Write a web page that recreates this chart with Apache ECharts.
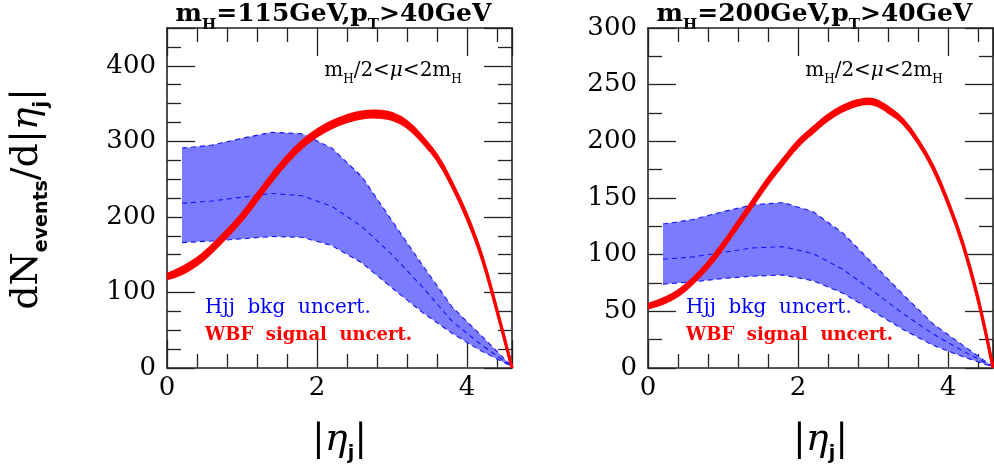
<!DOCTYPE html>
<html><head><meta charset="utf-8">
<script src="https://cdn.jsdelivr.net/npm/echarts@6/dist/echarts.min.js"></script>
<style>html,body{margin:0;padding:0;background:#fff}#c{width:994px;height:465px}</style>
</head><body><div id="c"></div>
<script>
// ---- data ----
const sigX = [0,0.2,0.4,0.6,0.8,1.0,1.2,1.4,1.6,1.8,2.0,2.2,2.4,2.6,2.8,3.0,3.2,3.4,3.6,3.8,4.0,4.2,4.4,4.6];
const sig115Upper = [124,133,145,162,182,204,230,256,280,300,315,326,334,339,340,337,326,306,281,245,202,148,77,0];
const sig115Lower = [118,125,137,154,174,196,222,248,272,292,307,318,326,331,332,329,319,300,276,241,198,145,75,0];
const sig200Upper = [56,61,68,79,93,110,129,148,167,184,200,212,223,231,236,237,230,219,201,178,147,110,62,0];
const sig200Lower = [53,57,64,75,89,106,125,144,163,180,196,208,219,227,232,233,226,216,199,176,145,108,60,0];

const bkgX = [0.2,0.6,1.0,1.4,1.8,2.2,2.6,3.0,3.4,3.8,4.2,4.6];
const bkg115Upper   = [291,295,304,312,310,291,253,195,137,81,42,2];
const bkg115Central = [218,221,226,231,228,214,187,150,108,62,30,2];
const bkg115Lower   = [166,168,171,174,173,162,139,106,74,46,22,2];
const bkg200Upper   = [127,131,138,144,146,138,119,92,65,39,20,1];
const bkg200Central = [96,98,102,106,107,101,87,68,48,30,15,1];
const bkg200Lower   = [74,76,79,81,82,77,66,50,34,20,10,1];

const xMax = 4.6, xMajor = 2, xMinorSplit = 5;
const yMaxs = [450, 300];
const yMajors = [100, 50];
const yMinorSplits = [4, 2];
const panelTitles = [['115','40'], ['200','40']];

// ---- style ----
const SERIF = "'DejaVu Serif', serif";
const SANS = "'DejaVu Sans', sans-serif";
const AX = '#222';
const grids = [
  {left:167, top:28, width:345, height:340},
  {left:648, top:28, width:345, height:340}
];

function xAxisFor(g, pos) {
  return {
    gridIndex:g, type:'value', min:0, max:xMax, interval:xMajor, position:pos,
    axisLine:{show:true, onZero:false, lineStyle:{color:AX, width:1.6}},
    axisTick:{show:true, inside:true, length:28, lineStyle:{color:AX, width:1.3}},
    minorTick:{show:true, splitNumber:xMinorSplit, length:14, lineStyle:{color:AX, width:1.3}},
    axisLabel:{show:pos==='bottom', showMaxLabel:false, margin:7, color:'#000', fontFamily:SERIF, fontSize:26},
    splitLine:{show:false}, minorSplitLine:{show:false}
  };
}
function yAxisFor(g, pos) {
  return {
    gridIndex:g, type:'value', min:0, max:yMaxs[g], interval:yMajors[g], position:pos,
    axisLine:{show:true, onZero:false, lineStyle:{color:AX, width:1.6}},
    axisTick:{show:true, inside:true, length:28, lineStyle:{color:AX, width:1.3}},
    minorTick:{show:true, splitNumber:yMinorSplits[g], length:14, lineStyle:{color:AX, width:1.3}},
    axisLabel:{show:pos==='left', showMaxLabel:g===1, showMinLabel:true, margin:11, color:'#000', fontFamily:SERIF, fontSize:26},
    splitLine:{show:false}, minorSplitLine:{show:false}
  };
}

const xAxes = [], yAxes = [];
for (let g=0; g<2; g++) {
  xAxes.push(xAxisFor(g,'bottom')); xAxes.push(xAxisFor(g,'top'));
  yAxes.push(yAxisFor(g,'left'));   yAxes.push(yAxisFor(g,'right'));
}

const SMOOTH = 0.45;
function bandSeries(g, xs, up, lo, fill, stroke, smooth, z) {
  return {
    type:'custom', xAxisIndex:2*g, yAxisIndex:2*g, z:z, silent:true,
    data:[[xs[0], lo[0]]],
    renderItem:function(params, api){
      const pu = xs.map((x,i)=>api.coord([x, up[i]]));
      const pl = xs.map((x,i)=>api.coord([x, lo[i]]));
      const poly = pu.concat(pl.slice().reverse());
      const children = [{type:'polygon', shape:{points:poly}, style:{fill:fill, stroke:null}}];
      if (stroke) {
        children.push({type:'polyline', shape:{points:pu, smooth:smooth}, style:{fill:null, stroke:stroke, lineWidth:3}});
        children.push({type:'polyline', shape:{points:pl, smooth:smooth}, style:{fill:null, stroke:stroke, lineWidth:3}});
      }
      return {type:'group', children:children};
    }
  };
}
function lineSeries(g, xs, ys, opt) {
  return Object.assign({
    type:'line', xAxisIndex:2*g, yAxisIndex:2*g, symbol:'none', silent:true,
    data: xs.map((x,i)=>[x, ys[i]]), animation:false
  }, opt);
}

const bkg = [[bkg115Upper,bkg115Central,bkg115Lower],[bkg200Upper,bkg200Central,bkg200Lower]];
const sig = [[sig115Upper,sig115Lower],[sig200Upper,sig200Lower]];
const series = [];
for (let g=0; g<2; g++) {
  const [bu,bc,bl] = bkg[g];
  series.push(bandSeries(g, bkgX, bu, bl, '#7b7bff', null, 0, 2));
  const dash = {color:'#1515ff', width:1.1, type:[5,4]};
  series.push(lineSeries(g, bkgX, bu, {lineStyle:dash, z:3}));
  series.push(lineSeries(g, bkgX, bc, {lineStyle:dash, z:3}));
  series.push(lineSeries(g, bkgX, bl, {lineStyle:dash, z:3}));
  const [su,sl] = sig[g];
  series.push(bandSeries(g, sigX, su, sl, '#ff0000', '#ff0000', SMOOTH, 4));
}

// ---- texts ----
const titleRich = {
  m:{fontFamily:SERIF, fontSize:25, fontWeight:'bold', color:'#000', lineHeight:31, verticalAlign:'top'},
  s:{fontFamily:SERIF, fontSize:15, fontWeight:'bold', color:'#000', lineHeight:15, verticalAlign:'bottom'}
};
const annRich = {
  m:{fontFamily:SERIF, fontSize:20, color:'#000', lineHeight:25, verticalAlign:'top'},
  i:{fontFamily:SERIF, fontStyle:'italic', fontSize:20, color:'#000', lineHeight:25, verticalAlign:'top'},
  s:{fontFamily:SERIF, fontSize:12, color:'#000', lineHeight:12, verticalAlign:'bottom'}
};
const labRich = {
  m:{fontFamily:SERIF, fontSize:38, color:'#000', lineHeight:43, verticalAlign:'top'},
  i:{fontFamily:SERIF, fontStyle:'italic', fontSize:38, color:'#000', lineHeight:43, verticalAlign:'top'},
  s:{fontFamily:SANS, fontWeight:'bold', fontSize:19, color:'#000', lineHeight:19, verticalAlign:'bottom'}
};
const graphics = [];
const cx = [grids[0].left + grids[0].width/2, grids[1].left + grids[1].width/2];
for (let g=0; g<2; g++) {
  const [mh, pt] = panelTitles[g];
  graphics.push({type:'text', x:cx[g]-6, y:2, style:{
    text:'{m|m}{s|H}{m|=' + mh + 'GeV,p}{s|T}{m|>' + pt + 'GeV}',
    rich:titleRich, align:'center', verticalAlign:'top'}});
  graphics.push({type:'text', x:grids[g].left + 226, y:61, style:{
    text:'{m|m}{s|H}{m|/2<}{i|μ}{m|<2m}{s|H}', rich:annRich, align:'center', verticalAlign:'top'}});
  graphics.push({type:'text', x:grids[g].left + 38, y:308, style:{
    text:'Hjj  bkg  uncert.', fontFamily:SERIF, fontSize:20, fill:'#0000ff', align:'left', verticalAlign:'middle'}});
  graphics.push({type:'text', x:grids[g].left + 38, y:335, style:{
    text:'WBF  signal  uncert.', fontFamily:SERIF, fontWeight:'bold', fontSize:18, fill:'#ff0000', align:'left', verticalAlign:'middle'}});
  graphics.push({type:'text', x:cx[g], y:421, style:{
    text:'{m||}{i|η}{s|j}{m||}', rich:labRich, align:'center', verticalAlign:'top'}});
}
graphics.push({type:'text', x:30, y:199, rotation:Math.PI/2, style:{
  text:'{m|dN}{s|events}{m|/d|}{i|η}{s|j}{m||}', rich:labRich, align:'center', verticalAlign:'middle'}});

const chart = echarts.init(document.getElementById('c'), null, {renderer:'canvas'});
chart.setOption({
  animation:false,
  backgroundColor:'#fff',
  grid: grids,
  xAxis: xAxes,
  yAxis: yAxes,
  series: series,
  graphic: {elements: graphics}
});
</script></body></html>
